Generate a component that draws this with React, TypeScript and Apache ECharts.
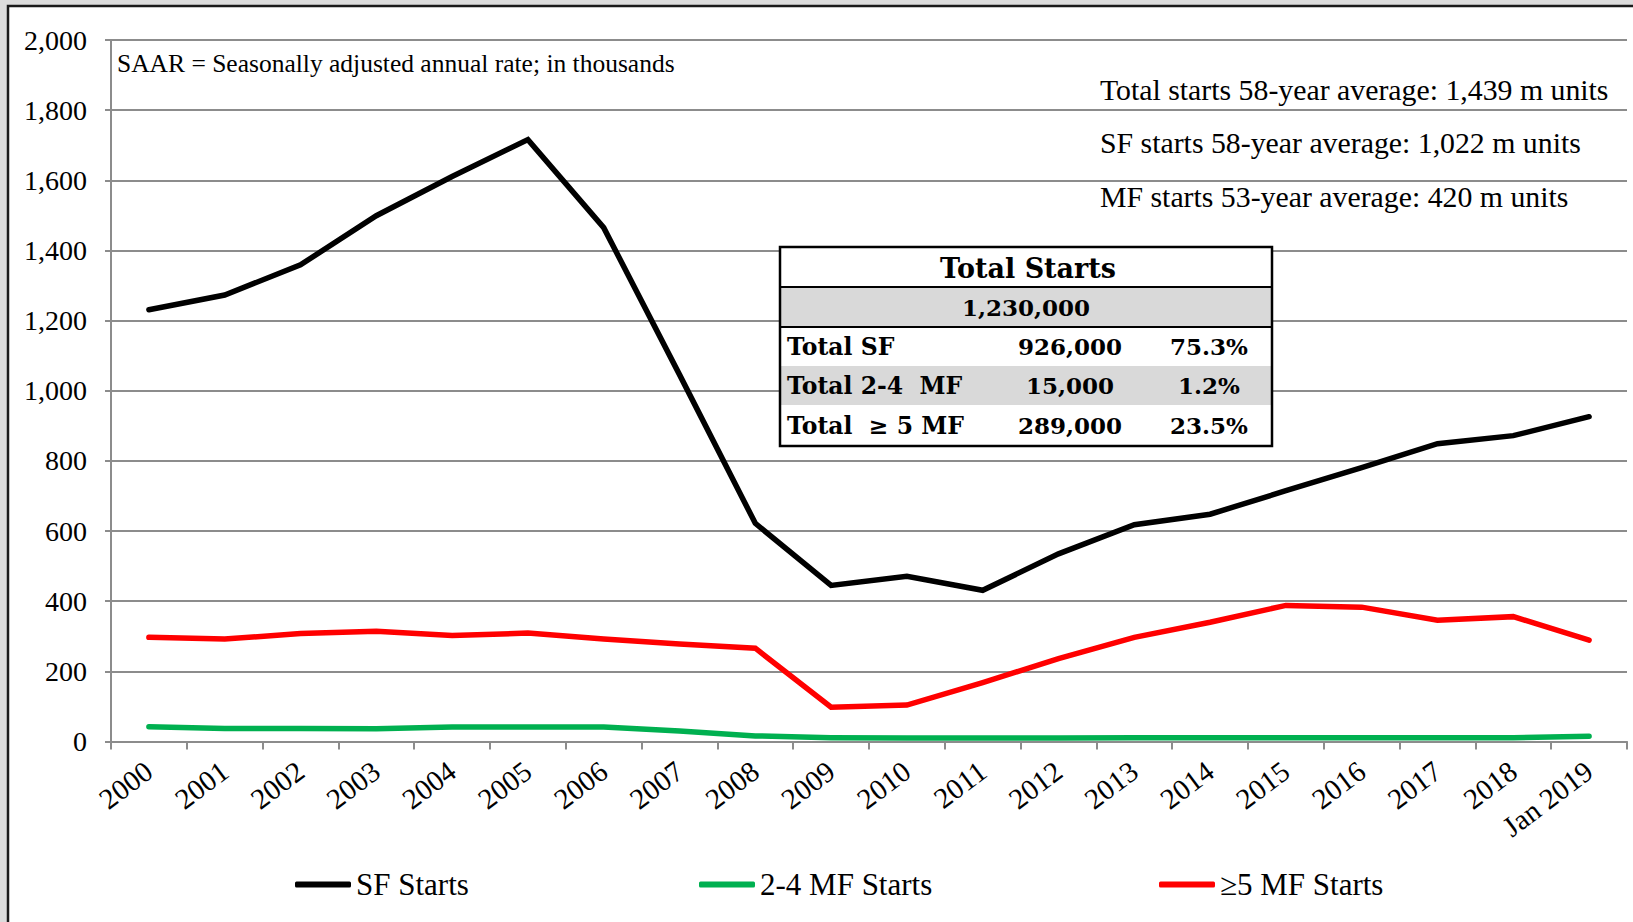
import React, { useEffect, useRef } from "react";
import * as echarts from "echarts";

const categories = [
  "2000", "2001", "2002", "2003", "2004", "2005", "2006", "2007", "2008", "2009",
  "2010", "2011", "2012", "2013", "2014", "2015", "2016", "2017", "2018", "Jan 2019",
];
const sfStarts = [1231, 1273, 1359, 1499, 1611, 1716, 1465, 1046, 622, 445, 471, 431, 535, 618, 648, 715, 781, 849, 872, 926];
const mf24Starts = [42, 37, 37, 36, 41, 41, 41, 30, 16, 11, 10, 10, 10, 11, 11, 11, 11, 11, 11, 15];
const mf5Starts = [297, 292, 308, 314, 302, 309, 292, 278, 266, 98, 104, 168, 236, 297, 340, 388, 383, 346, 356, 289];

const seriesNames = ["SF Starts", "2-4 MF Starts", "≥5 MF Starts"];
const seriesColors = ["#000000", "#00b050", "#ff0000"];

const yTickValues = [0, 200, 400, 600, 800, 1000, 1200, 1400, 1600, 1800, 2000];

const noteText = "SAAR = Seasonally adjusted annual rate; in thousands";
const averageNotes = [
  "Total starts 58-year average: 1,439 m units",
  "SF starts 58-year average: 1,022 m units",
  "MF starts 53-year average: 420 m units",
];

const tableTitle = "Total Starts";
const tableTotal = "1,230,000";
const tableRowLabels = ["Total SF", "Total 2-4  MF", "Total  ≥ 5 MF"];
const tableRowCounts = ["926,000", "15,000", "289,000"];
const tableRowShares = ["75.3%", "1.2%", "23.5%"];

const SERIF = '"Liberation Serif", "Times New Roman", serif';
const TSERIF = '"DejaVu Serif", serif';

export default function App() {
  const ref = useRef<HTMLDivElement>(null);

  useEffect(() => {
    if (!ref.current) return;
    const chart = echarts.init(ref.current, undefined, { renderer: "svg" });

    const dataSets = [sfStarts, mf24Starts, mf5Starts];
    const gridColor = "#8c8c8c";

    // table geometry
    const tx = 780, ty = 247, tw = 492;
    const rowH = [40, 40, 39, 39, 41];
    const rowY: number[] = [];
    let acc = ty;
    for (const h of rowH) { rowY.push(acc); acc += h; }
    const th = acc - ty;

    const graphics: any[] = [
      { type: "rect", shape: { x: 0, y: 0, width: 7, height: 922 }, style: { fill: "#dcdcdc" }, z: 1 },
      { type: "rect", shape: { x: 0, y: 0, width: 1633, height: 5 }, style: { fill: "#dcdcdc" }, z: 1 },
      { type: "rect", shape: { x: 8, y: 6, width: 1700, height: 1000 }, style: { fill: "none", stroke: "#1a1a1a", lineWidth: 2.5 }, z: 1 },
      {
        type: "text", z: 50,
        style: { text: noteText, x: 117, y: 63, fill: "#000", fontFamily: SERIF, fontSize: 25.5, verticalAlign: "middle", textAlign: "left" },
      },
    ];
    const noteYs = [89, 142, 196];
    averageNotes.forEach((t, i) => {
      graphics.push({
        type: "text", z: 50,
        style: { text: t, x: 1100, y: noteYs[i], fill: "#000", fontFamily: SERIF, fontSize: 29.8, verticalAlign: "middle", textAlign: "left" },
      });
    });

    // table
    graphics.push({ type: "rect", z: 60, shape: { x: tx, y: ty, width: tw, height: th }, style: { fill: "#fff" } });
    graphics.push({ type: "rect", z: 61, shape: { x: tx, y: rowY[1], width: tw, height: rowH[1] }, style: { fill: "#d9d9d9" } });
    graphics.push({ type: "rect", z: 61, shape: { x: tx, y: rowY[3], width: tw, height: rowH[3] }, style: { fill: "#d9d9d9" } });
    graphics.push({ type: "line", z: 63, shape: { x1: tx, y1: rowY[1], x2: tx + tw, y2: rowY[1] }, style: { stroke: "#000", lineWidth: 2 } });
    graphics.push({ type: "line", z: 63, shape: { x1: tx, y1: rowY[2], x2: tx + tw, y2: rowY[2] }, style: { stroke: "#000", lineWidth: 2 } });
    graphics.push({ type: "rect", z: 64, shape: { x: tx, y: ty, width: tw, height: th }, style: { fill: "none", stroke: "#000", lineWidth: 2.5 } });
    const cx = tx + tw / 2;
    graphics.push({
      type: "text", z: 65,
      style: { text: tableTitle, x: cx + 2, y: rowY[0] + rowH[0] / 2 + 1, fill: "#000", fontFamily: TSERIF, fontWeight: "bold", fontSize: 27, textAlign: "center", verticalAlign: "middle" },
    });
    graphics.push({
      type: "text", z: 65,
      style: { text: tableTotal, x: cx, y: rowY[1] + rowH[1] / 2, fill: "#000", fontFamily: TSERIF, fontWeight: "bold", fontSize: 23, textAlign: "center", verticalAlign: "middle" },
    });
    tableRowLabels.forEach((lab, i) => {
      const yc = rowY[i + 2] + rowH[i + 2] / 2;
      graphics.push({
        type: "text", z: 65,
        style: { text: lab, x: tx + 7, y: yc, fill: "#000", fontFamily: TSERIF, fontWeight: "bold", fontSize: 23.5, textAlign: "left", verticalAlign: "middle" },
      });
      graphics.push({
        type: "text", z: 65,
        style: { text: tableRowCounts[i], x: 1070, y: yc, fill: "#000", fontFamily: TSERIF, fontWeight: "bold", fontSize: 23, textAlign: "center", verticalAlign: "middle" },
      });
      graphics.push({
        type: "text", z: 65,
        style: { text: tableRowShares[i], x: 1209, y: yc, fill: "#000", fontFamily: TSERIF, fontWeight: "bold", fontSize: 23, textAlign: "center", verticalAlign: "middle" },
      });
    });

    const legendLefts = [295, 699, 1159];

    chart.setOption({
      animation: false,
      backgroundColor: "#ffffff",
      grid: { left: 111, right: 6, top: 40, bottom: 180.5, containLabel: false },
      xAxis: {
        type: "category",
        data: categories,
        boundaryGap: true,
        axisLine: { show: true, lineStyle: { color: gridColor, width: 2 } },
        axisTick: { show: true, length: 8, interval: 0, lineStyle: { color: gridColor, width: 2 } },
        axisLabel: {
          interval: 0, rotate: 37, margin: 26, color: "#000",
          fontFamily: SERIF, fontSize: 29,
        },
      },
      yAxis: {
        type: "value",
        min: yTickValues[0],
        max: yTickValues[yTickValues.length - 1],
        interval: yTickValues[1] - yTickValues[0],
        axisLine: { show: true, lineStyle: { color: gridColor, width: 2 } },
        axisTick: { show: true, length: 6, lineStyle: { color: gridColor, width: 2 } },
        splitLine: { show: true, lineStyle: { color: gridColor, width: 2 } },
        axisLabel: {
          margin: 24, color: "#000", fontFamily: SERIF, fontSize: 28,
          formatter: (v: number) => v.toLocaleString("en-US"),
        },
      },
      legend: seriesNames.map((n, i) => ({
        data: [n],
        left: legendLefts[i],
        top: 869,
        itemWidth: 56,
        itemHeight: 6,
        icon: "roundRect",
        itemGap: 0,
        padding: 0,
        textStyle: { color: "#000", fontFamily: SERIF, fontSize: 31 },
      })),
      graphic: graphics,
      series: seriesNames.map((n, i) => ({
        name: n,
        type: "line",
        data: dataSets[i],
        symbol: "none",
        color: seriesColors[i],
        lineStyle: { color: seriesColors[i], width: 5.5, join: "miter", cap: "round" },
        z: 10 - i,
      })),
    });

    return () => chart.dispose();
  }, []);

  return (
    <div
      ref={ref}
      style={{ position: "absolute", left: 0, top: 0, width: 1633, height: 922 }}
    />
  );
}
